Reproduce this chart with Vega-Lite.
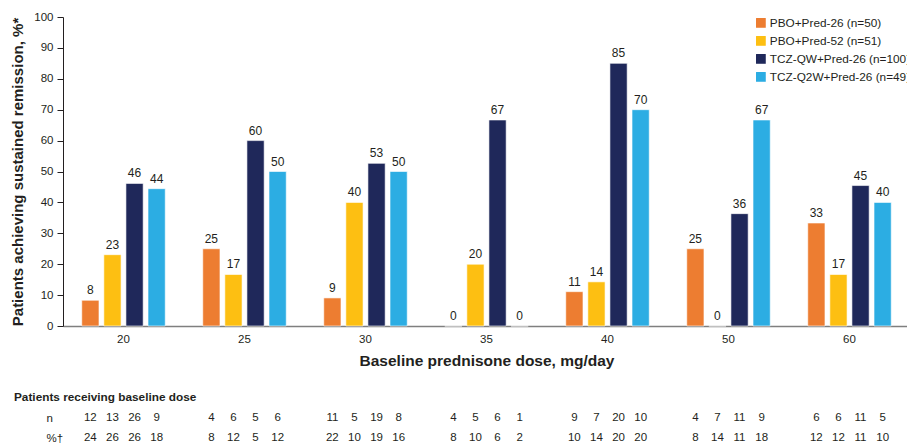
{
  "$schema": "https://vega.github.io/schema/vega-lite/v6.json",
  "padding": {"top": 11, "left": 10, "right": 0, "bottom": 0},
  "background": "white",
  "config": {
    "font": "Liberation Sans",
    "view": {"stroke": null},
    "axis": {"labelFont": "Liberation Sans", "titleFont": "Liberation Sans", "labelColor": "#231f20", "titleColor": "#231f20"},
    "concat": {"spacing": 23}
  },
  "data": {"values": [
    {"dose": "20", "group": "PBO+Pred-26 (n=50)", "rate": 8.33, "n": 12, "pct": 24},
    {"dose": "20", "group": "PBO+Pred-52 (n=51)", "rate": 23.08, "n": 13, "pct": 26},
    {"dose": "20", "group": "TCZ-QW+Pred-26 (n=100)", "rate": 46.15, "n": 26, "pct": 26},
    {"dose": "20", "group": "TCZ-Q2W+Pred-26 (n=49)", "rate": 44.44, "n": 9, "pct": 18},
    {"dose": "25", "group": "PBO+Pred-26 (n=50)", "rate": 25, "n": 4, "pct": 8},
    {"dose": "25", "group": "PBO+Pred-52 (n=51)", "rate": 16.67, "n": 6, "pct": 12},
    {"dose": "25", "group": "TCZ-QW+Pred-26 (n=100)", "rate": 60, "n": 5, "pct": 5},
    {"dose": "25", "group": "TCZ-Q2W+Pred-26 (n=49)", "rate": 50, "n": 6, "pct": 12},
    {"dose": "30", "group": "PBO+Pred-26 (n=50)", "rate": 9.09, "n": 11, "pct": 22},
    {"dose": "30", "group": "PBO+Pred-52 (n=51)", "rate": 40, "n": 5, "pct": 10},
    {"dose": "30", "group": "TCZ-QW+Pred-26 (n=100)", "rate": 52.63, "n": 19, "pct": 19},
    {"dose": "30", "group": "TCZ-Q2W+Pred-26 (n=49)", "rate": 50, "n": 8, "pct": 16},
    {"dose": "35", "group": "PBO+Pred-26 (n=50)", "rate": 0, "n": 4, "pct": 8},
    {"dose": "35", "group": "PBO+Pred-52 (n=51)", "rate": 20, "n": 5, "pct": 10},
    {"dose": "35", "group": "TCZ-QW+Pred-26 (n=100)", "rate": 66.67, "n": 6, "pct": 6},
    {"dose": "35", "group": "TCZ-Q2W+Pred-26 (n=49)", "rate": 0, "n": 1, "pct": 2},
    {"dose": "40", "group": "PBO+Pred-26 (n=50)", "rate": 11.11, "n": 9, "pct": 10},
    {"dose": "40", "group": "PBO+Pred-52 (n=51)", "rate": 14.29, "n": 7, "pct": 14},
    {"dose": "40", "group": "TCZ-QW+Pred-26 (n=100)", "rate": 85, "n": 20, "pct": 20},
    {"dose": "40", "group": "TCZ-Q2W+Pred-26 (n=49)", "rate": 70, "n": 10, "pct": 20},
    {"dose": "50", "group": "PBO+Pred-26 (n=50)", "rate": 25, "n": 4, "pct": 8},
    {"dose": "50", "group": "PBO+Pred-52 (n=51)", "rate": 0, "n": 7, "pct": 14},
    {"dose": "50", "group": "TCZ-QW+Pred-26 (n=100)", "rate": 36.36, "n": 11, "pct": 11},
    {"dose": "50", "group": "TCZ-Q2W+Pred-26 (n=49)", "rate": 66.67, "n": 9, "pct": 18},
    {"dose": "60", "group": "PBO+Pred-26 (n=50)", "rate": 33.33, "n": 6, "pct": 12},
    {"dose": "60", "group": "PBO+Pred-52 (n=51)", "rate": 16.67, "n": 6, "pct": 12},
    {"dose": "60", "group": "TCZ-QW+Pred-26 (n=100)", "rate": 45.45, "n": 11, "pct": 11},
    {"dose": "60", "group": "TCZ-Q2W+Pred-26 (n=49)", "rate": 40, "n": 5, "pct": 10}
  ]},
  "resolve": {"scale": {"y": "independent"}},
  "vconcat": [
    {
      "width": 847,
      "height": 309,
      "encoding": {
        "x": {
          "field": "dose", "type": "nominal", "sort": ["20","25","30","35","40","50","60"],
          "scale": {"paddingInner": 0.31, "paddingOuter": 0.155},
          "axis": {"title": "Baseline prednisone dose, mg/day", "labelAngle": 0, "labelFontSize": 11.5, "ticks": false, "labelPadding": 7, "domainColor": "#7f7f7f", "domainWidth": 1.5, "titleFontSize": 15.5, "titleFontWeight": "bold", "titlePadding": 9}
        },
        "xOffset": {
          "field": "group", "type": "nominal",
          "sort": ["PBO+Pred-26 (n=50)", "PBO+Pred-52 (n=51)", "TCZ-QW+Pred-26 (n=100)", "TCZ-Q2W+Pred-26 (n=49)"],
          "scale": {"paddingInner": 0.22}
        },
        "y": {
          "field": "rate", "type": "quantitative",
          "scale": {"domain": [0, 100]},
          "axis": {"title": "Patients achieving sustained remission, %*", "values": [0,10,20,30,40,50,60,70,80,90,100], "grid": false, "tickSize": 6, "tickColor": "#231f20", "domainColor": "#231f20", "labelFontSize": 11.5, "labelPadding": 4, "titleFontSize": 15, "titleFontWeight": "bold", "titlePadding": 8}
        }
      },
      "layer": [
        {
          "mark": {"type": "bar", "stroke": "white", "strokeWidth": 0.6},
          "encoding": {
            "color": {
              "field": "group", "type": "nominal",
              "sort": ["PBO+Pred-26 (n=50)", "PBO+Pred-52 (n=51)", "TCZ-QW+Pred-26 (n=100)", "TCZ-Q2W+Pred-26 (n=49)"],
              "scale": {"domain": ["PBO+Pred-26 (n=50)", "PBO+Pred-52 (n=51)", "TCZ-QW+Pred-26 (n=100)", "TCZ-Q2W+Pred-26 (n=49)"], "range": ["#ED7D31", "#FDBF12", "#1F285A", "#2CADE3"]},
              "legend": {"title": null, "orient": "none", "legendX": 692, "legendY": 0, "symbolType": "square", "symbolSize": 95, "symbolStrokeWidth": 0, "labelFontSize": 11.8, "labelColor": "#231f20", "rowPadding": 5, "labelLimit": 300, "labelOffset": 3}
            }
          }
        },
        {
          "mark": {"type": "text", "baseline": "bottom", "dy": -3, "fontSize": 12, "color": "#231f20"},
          "encoding": {
            "text": {"field": "rate", "type": "quantitative", "format": ".0f"}
          }
        }
      ]
    },
    {
      "width": 847,
      "height": 40,
      "title": {"text": "Patients receiving baseline dose", "anchor": "start", "frame": "group", "fontSize": 11.8, "fontWeight": "bold", "color": "#231f20", "dx": -49, "offset": 4},
      "transform": [{"fold": ["n", "pct"], "as": ["row", "val"]}],
      "mark": {"type": "text", "fontSize": 11.5, "color": "#231f20"},
      "encoding": {
        "x": {"field": "dose", "type": "nominal", "sort": ["20","25","30","35","40","50","60"], "scale": {"paddingInner": 0.31, "paddingOuter": 0.155}, "axis": null},
        "xOffset": {"field": "group", "type": "nominal", "sort": ["PBO+Pred-26 (n=50)", "PBO+Pred-52 (n=51)", "TCZ-QW+Pred-26 (n=100)", "TCZ-Q2W+Pred-26 (n=49)"], "scale": {"paddingInner": 0.22}},
        "y": {"field": "row", "type": "nominal", "sort": ["n", "pct"], "axis": {"title": null, "domain": false, "ticks": false, "labelAlign": "left", "labelPadding": 17, "labelFontSize": 11.5, "labelExpr": "datum.value == 'pct' ? '%†' : 'n'"}},
        "text": {"field": "val", "type": "quantitative"}
      }
    }
  ]
}
